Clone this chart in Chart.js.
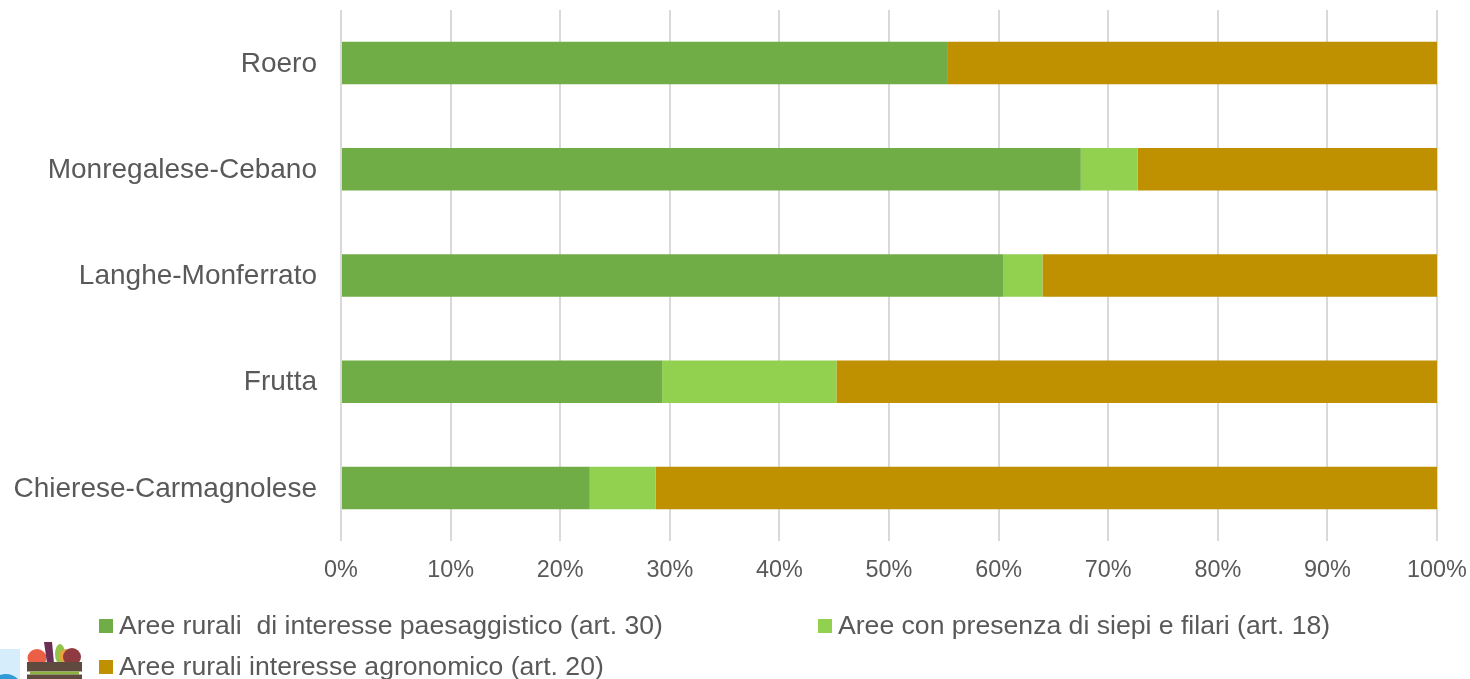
<!DOCTYPE html>
<html><head><meta charset="utf-8">
<script src="https://cdn.jsdelivr.net/npm/chart.js@4"></script>
<style>html,body{margin:0;padding:0;background:#fff;overflow:hidden}#w{position:relative;width:1470px;height:679px;overflow:hidden}canvas{display:block;position:absolute;left:0;top:0}svg{position:absolute;left:0;top:0}</style>
</head><body><div id="w"><canvas id="c" width="1470" height="679" style="width:1470px;height:679px"></canvas>
<svg width="1470" height="679" viewBox="0 0 1470 679" aria-hidden="true">
<rect x="0" y="649" width="20" height="30" fill="#D6EEFB"/>
<path d="M0 675 Q10 672 18 679 L0 679Z" fill="#2E9BD6"/>
<ellipse cx="37" cy="658" rx="9.5" ry="9" fill="#EA5F45"/>
<path d="M44 642 L52 642 L54 663 L47 663Z" fill="#6B2F55"/>
<ellipse cx="60" cy="654" rx="5" ry="10" fill="#92C34B"/>
<circle cx="66" cy="656" r="7" fill="#E9A23B"/>
<circle cx="72" cy="657" r="9" fill="#8E3A40"/>
<rect x="27" y="662" width="55" height="9.5" fill="#5E4A3E"/>
<rect x="30" y="671.5" width="49" height="3" fill="#8DB13F"/>
<rect x="27" y="674.5" width="55" height="4.5" fill="#5E4A3E"/>
</svg></div>
<script>
const categories=["Roero","Monregalese-Cebano","Langhe-Monferrato","Frutta","Chierese-Carmagnolese"];
const seriesPaesaggistico=[55.3,67.5,60.4,29.3,22.7];
const seriesSiepi=[0,5.2,3.6,15.9,6.0];
const seriesAgronomico=[44.7,27.3,36.0,54.8,71.3];
const legendLabels=["Aree rurali  di interesse paesaggistico (art. 30)","Aree con presenza di siepi e filari (art. 18)","Aree rurali interesse agronomico (art. 20)"];
const colors=["#70AD47","#92D050","#BF9000"];
const font="'Liberation Sans', Arial, sans-serif";
new Chart(document.getElementById('c'),{
 type:'bar',
 data:{labels:categories,datasets:[
  {label:legendLabels[0],data:seriesPaesaggistico,backgroundColor:colors[0]},
  {label:legendLabels[1],data:seriesSiepi,backgroundColor:colors[1]},
  {label:legendLabels[2],data:seriesAgronomico,backgroundColor:colors[2]}]},
 options:{indexAxis:'y',responsive:false,animation:false,devicePixelRatio:1,
  layout:{padding:{left:0,right:33,top:10,bottom:69}},
  plugins:{legend:{display:false},tooltip:{enabled:false}},
  datasets:{bar:{categoryPercentage:1,barPercentage:0.4}},
  scales:{
   x:{stacked:true,min:0,max:100,afterFit(a){a.height=69;a.paddingLeft=0;a.paddingRight=0},
      ticks:{stepSize:10,callback:v=>v+'%',color:'#595959',font:{family:font,size:23.4},maxRotation:0,padding:16},
      grid:{color:'#D9D9D9',lineWidth:2,drawTicks:false},border:{display:false}},
   y:{stacked:true,afterFit(a){a.width=341;a.paddingTop=0;a.paddingBottom=0},
      ticks:{color:'#595959',font:{family:font,size:28},padding:16,labelOffset:1},
      grid:{display:false},border:{display:false}}
  }
 },
 plugins:[{id:'leg',afterDraw(c){const x=c.ctx;x.save();x.font="26.6px "+font;x.textBaseline='middle';x.textAlign='left';
   const it=[[99,626,0],[818,626,1],[99,667,2]];
   it.forEach(([px,py,i])=>{x.fillStyle=colors[i];x.fillRect(px,py-7,14,14);x.fillStyle='#595959';x.fillText(legendLabels[i],px+20,py+1)});
   x.restore();}}]
});
</script></body></html>
